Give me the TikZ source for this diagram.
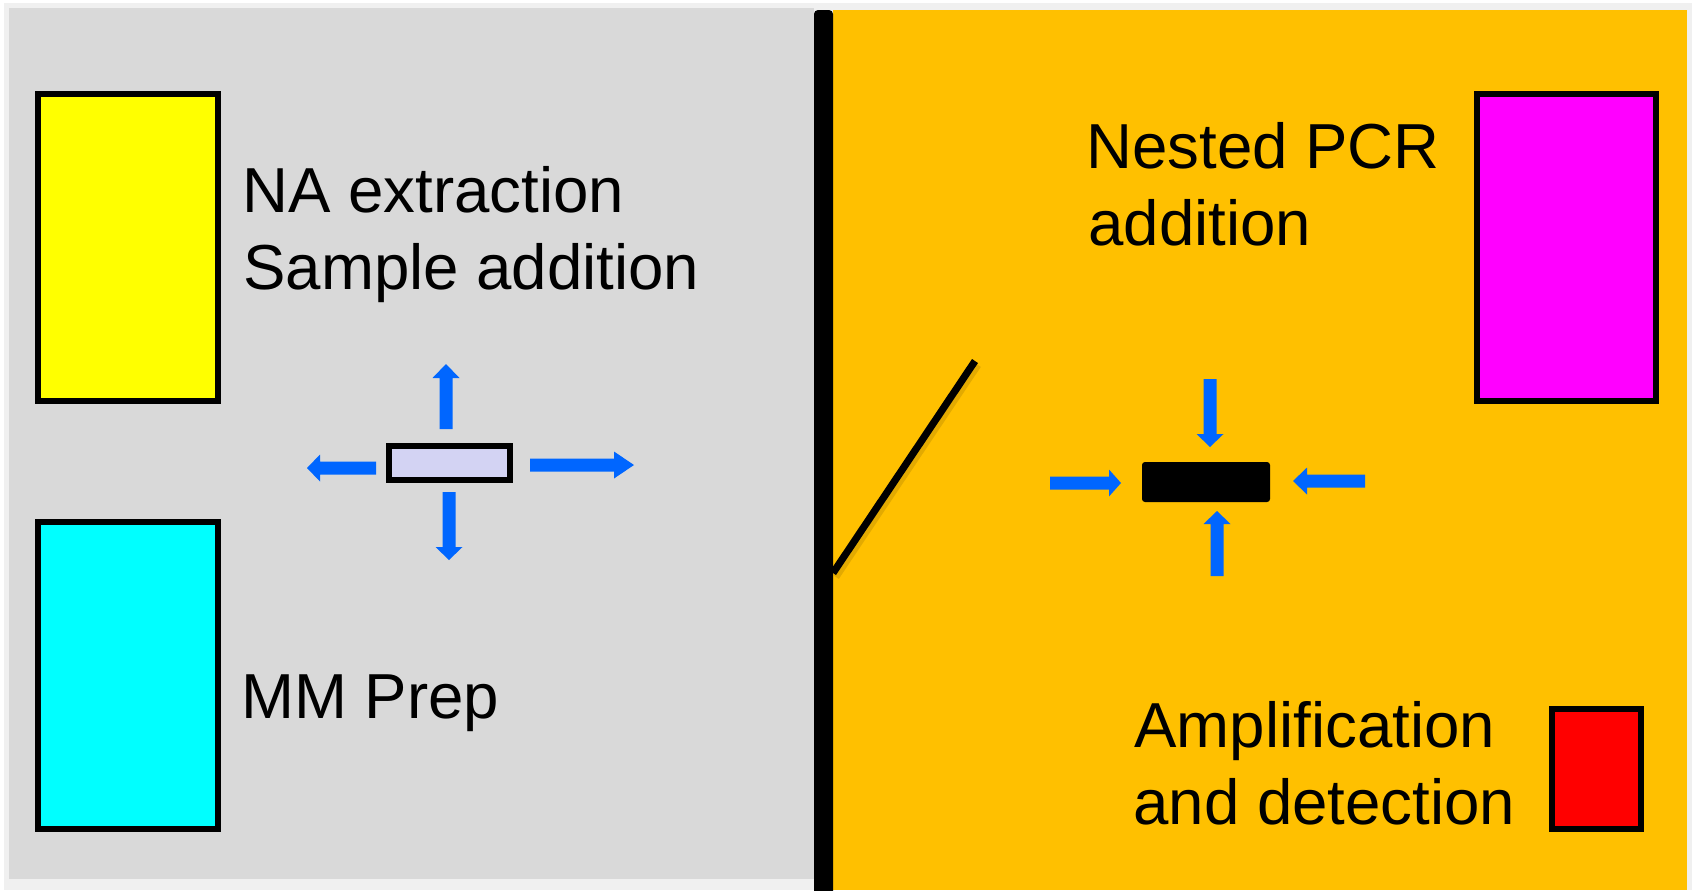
\documentclass[tikz,border=0pt]{standalone}
\usepackage{fontspec}
\setmainfont{Liberation Sans}
\usetikzlibrary{fit}
\definecolor{panelgray}{HTML}{D9D9D9}
\definecolor{labamber}{HTML}{FFC000}
\definecolor{arrowblue}{HTML}{0066FF}
\definecolor{hoodlilac}{HTML}{D3D3F3}
\definecolor{edgegray}{HTML}{F0F0F0}
\definecolor{doorshade}{HTML}{C89600}
\definecolor{benchyellow}{RGB}{255,255,0}
\definecolor{benchcyan}{RGB}{0,255,255}
\definecolor{benchmagenta}{RGB}{255,0,255}
\definecolor{benchred}{RGB}{255,0,0}

\begin{document}
\begin{tikzpicture}[x=0.5pt, y=-0.5pt,
  box/.style={draw=black, line width=2.6pt, inner sep=0pt},
  lbl/.style={anchor=base west, inner sep=0pt, font=\fontsize{31.8}{38.5}\selectfont},
  % block arrow along +x: {total length}{head length}
  pics/barrow/.style 2 args={code={
    \fill[arrowblue] (0,-6.5) -- ({#1-#2},-6.5) -- ({#1-#2},-13.5) -- (#1,0)
      -- ({#1-#2},13.5) -- ({#1-#2},6.5) -- (0,6.5) -- cycle;}},
]
\useasboundingbox (0,0) rectangle (1692,890);

% room backgrounds
\fill[white] (0,0) rectangle (1692,890);
\fill[edgegray] (4,3) rectangle (1692,890);
\fill[panelgray] (9,8) rectangle (814,879);
\fill[labamber] (833,10) rectangle (1687,890);

% dividing wall and door
\fill[black, rounded corners=2] (814,10) rectangle (833,896);
\draw[doorshade, opacity=0.5, line width=3.4pt] (978,365) -- (836,577);
\draw[black, line width=3.6pt] (975,361) -- (833,573);

% workstations, left room
\node[box, fill=benchyellow, fit={(38,94)(218,401)}] (naext) {};
\node[box, fill=benchcyan, fit={(38,522)(218,829)}] (mmprep) {};
\node[box, fill=hoodlilac, fit={(389,446)(510,480)}] (hood) {};

% workstations, right room
\node[box, fill=benchmagenta, fit={(1477,94)(1656,401)}] (nested) {};
\node[box, fill=benchred, fit={(1552,709)(1641,829)}] (ampdet) {};
\node[fill=black, rounded corners=1.5pt, inner sep=0pt, fit={(1142,462)(1270,502)}] (pcrbox) {};

% labels
\node[lbl] (na1) at (242,212) {NA extraction};
\node[lbl] (na2) at (243,289) {Sample addition};
\node[lbl] (mm) at (241,718) {MM Prep};
\node[lbl] (np1) at (1086,168) {Nested PCR};
\node[lbl] (np2) at (1088,245) {addition};
\node[lbl] (amp1) at (1134,747) {Amplification};
\node[lbl] (amp2) at (1133,824) {and detection};

% outward air flow, left room
\pic[rotate=90] at (446,429) {barrow={65}{14}};
\pic[rotate=180] at (376,468) {barrow={69}{13}};
\pic at (530,465) {barrow={104}{20}};
\pic[rotate=-90] at (449,492) {barrow={68}{13}};

% inward air flow, right room
\pic[rotate=-90] at (1210,379) {barrow={68}{13}};
\pic at (1050,483) {barrow={71}{12}};
\pic[rotate=180] at (1365,481) {barrow={72}{14}};
\pic[rotate=90] at (1217,576) {barrow={65}{13}};
\end{tikzpicture}
\end{document}
